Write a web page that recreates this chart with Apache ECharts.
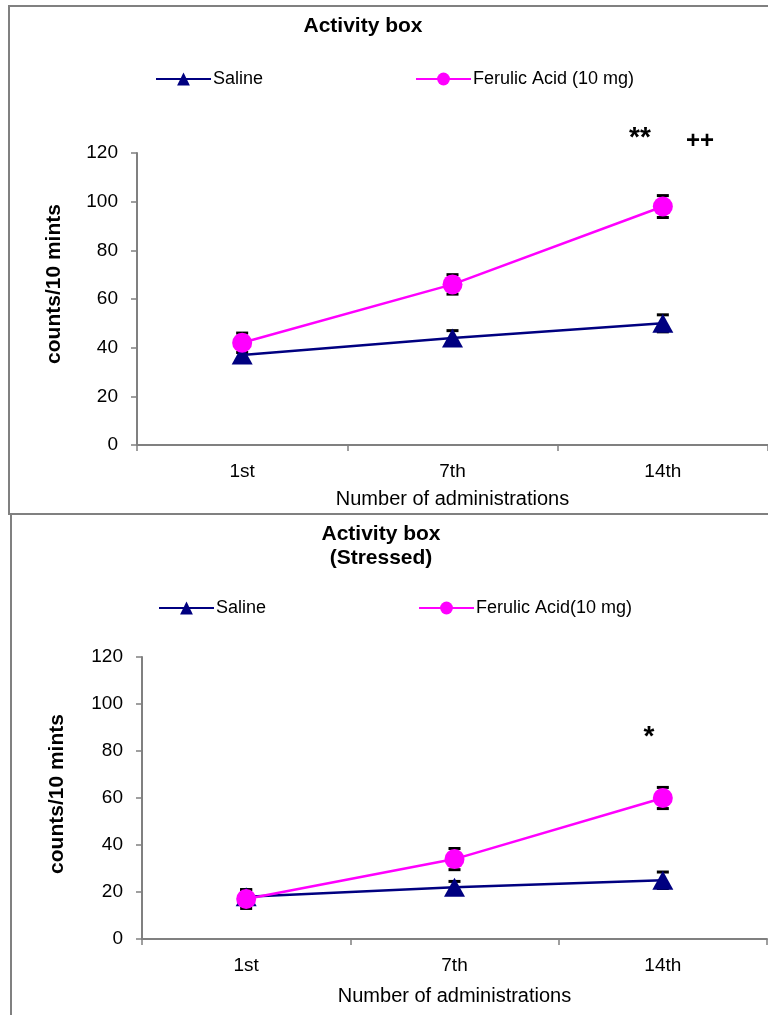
<!DOCTYPE html>
<html>
<head>
<meta charset="utf-8">
<script src="https://cdn.jsdelivr.net/npm/echarts@6/dist/echarts.min.js"></script>
<style>
  html, body { margin: 0; padding: 0; background: #fff; overflow: hidden; }
  .box { position: absolute; border: 2px solid #808080; box-sizing: border-box; }
  #chart { position: absolute; left: 0; top: 0; width: 768px; height: 1015px; }
</style>
</head>
<body>
<!-- panel frames -->
<div class="box" style="left:8px; top:5px; width:800px; height:510px;"></div>
<div class="box" style="left:10px; top:513px; width:800px; height:560px;"></div>
<div id="chart"></div>
<script>
// x categories (same for both panels)
var categories = ['1st', '7th', '14th'];
var yTicks = { min: 0, max: 120, interval: 20 };

// top panel: Activity box
var salineTop = [37, 44, 50];
var salineTopErr = [3, 3, 3.5];
var ferulicTop = [42, 66, 98];
var ferulicTopErr = [4, 4, 4.5];

// bottom panel: Activity box (Stressed)
var salineBot = [18, 22, 25];
var salineBotErr = [3, 2.5, 3.5];
var ferulicBot = [17, 34, 60];
var ferulicBotErr = [4, 4.5, 4.5];

var FONT = 'Liberation Sans, Arial, sans-serif';
var NAVY = '#000080';
var PINK = '#FF00FF';

// build [index, low, high] rows for the error bars
function errRows(vals, errs) {
  return vals.map(function (v, i) { return [i, v - errs[i], v + errs[i]]; });
}

function errRender(params, api) {
  var top = api.coord([api.value(0), api.value(2)]);
  var bot = api.coord([api.value(0), api.value(1)]);
  var w = 6;
  return {
    type: 'group',
    children: [
      { type: 'line', shape: { x1: top[0], y1: top[1], x2: bot[0], y2: bot[1] }, style: { stroke: '#000', lineWidth: 1.5 } },
      { type: 'line', shape: { x1: top[0] - w, y1: top[1], x2: top[0] + w, y2: top[1] }, style: { stroke: '#000', lineWidth: 3 } },
      { type: 'line', shape: { x1: bot[0] - w, y1: bot[1], x2: bot[0] + w, y2: bot[1] }, style: { stroke: '#000', lineWidth: 3 } }
    ]
  };
}

function xAxisFor(idx, gap) {
  return {
    type: 'category',
    gridIndex: idx,
    data: categories,
    name: 'Number of administrations',
    nameLocation: 'middle',
    nameGap: gap,
    nameTextStyle: { color: '#000', fontSize: 20, fontFamily: FONT },
    axisLine: { lineStyle: { color: '#808080', width: 2 } },
    axisTick: { show: true, length: 6, lineStyle: { color: '#808080', width: 1.5 } },
    axisLabel: { color: '#000', fontSize: 19, fontFamily: FONT, margin: 17 },
    splitLine: { show: false }
  };
}

function yAxisFor(idx, gap, pad) {
  return {
    type: 'value',
    gridIndex: idx,
    min: yTicks.min,
    max: yTicks.max,
    interval: yTicks.interval,
    name: 'counts/10 mints',
    nameLocation: 'middle',
    nameGap: gap,
    nameTextStyle: { color: '#000', fontSize: 21, fontWeight: 'bold', fontFamily: FONT, padding: [0, 0, 0, pad] },
    axisLine: { show: true, lineStyle: { color: '#808080', width: 2 } },
    axisTick: { show: true, length: 6, lineStyle: { color: '#808080', width: 1.5 } },
    axisLabel: { color: '#000', fontSize: 19, fontFamily: FONT, margin: 19 },
    splitLine: { show: false }
  };
}

function legendAt(left, top, name) {
  return {
    left: left,
    top: top,
    padding: 0,
    data: [name],
    itemWidth: 55,
    itemHeight: 16,
    itemGap: 0,
    textStyle: { color: '#000', fontSize: 18, fontFamily: FONT, padding: [0, 0, 0, -3] }
  };
}

var chart = echarts.init(document.getElementById('chart'));

var option = {
  animation: false,
  backgroundColor: 'transparent',
  textStyle: { fontFamily: FONT },
  graphic: [
    { type: 'text', x: 363, y: 26, style: { text: 'Activity box', font: 'bold 21px ' + FONT, fill: '#000', align: 'center', verticalAlign: 'middle' } },
    { type: 'text', x: 381, y: 534, style: { text: 'Activity box', font: 'bold 21px ' + FONT, fill: '#000', align: 'center', verticalAlign: 'middle' } },
    { type: 'text', x: 381, y: 558, style: { text: '(Stressed)', font: 'bold 21px ' + FONT, fill: '#000', align: 'center', verticalAlign: 'middle' } },
    { type: 'text', x: 640, y: 138, style: { text: '**', font: 'bold 28px ' + FONT, fill: '#000', align: 'center', verticalAlign: 'middle' } },
    { type: 'text', x: 700, y: 141, style: { text: '++', font: 'bold 24px ' + FONT, fill: '#000', align: 'center', verticalAlign: 'middle' } },
    { type: 'text', x: 649, y: 737, style: { text: '*', font: 'bold 28px ' + FONT, fill: '#000', align: 'center', verticalAlign: 'middle' } }
  ],
  legend: [
    legendAt(155, 70, 'Saline'),
    legendAt(415, 70, 'Ferulic Acid (10 mg)'),
    legendAt(158, 599, 'Saline'),
    legendAt(418, 599, 'Ferulic Acid(10 mg)')
  ],
  grid: [
    { left: 137, top: 153, width: 631, height: 292 },
    { left: 142, top: 657, width: 625, height: 282 }
  ],
  xAxis: [xAxisFor(0, 44), xAxisFor(1, 47)],
  yAxis: [yAxisFor(0, 72, 30), yAxisFor(1, 74, 8)],
  series: [
    { type: 'custom', xAxisIndex: 0, yAxisIndex: 0, renderItem: errRender, data: errRows(salineTop, salineTopErr), z: 1, silent: true },
    { type: 'custom', xAxisIndex: 0, yAxisIndex: 0, renderItem: errRender, data: errRows(ferulicTop, ferulicTopErr), z: 1, silent: true },
    { type: 'custom', xAxisIndex: 1, yAxisIndex: 1, renderItem: errRender, data: errRows(salineBot, salineBotErr), z: 1, silent: true },
    { type: 'custom', xAxisIndex: 1, yAxisIndex: 1, renderItem: errRender, data: errRows(ferulicBot, ferulicBotErr), z: 1, silent: true },
    {
      name: 'Saline', type: 'line', xAxisIndex: 0, yAxisIndex: 0, data: salineTop, z: 3,
      symbol: 'triangle', symbolSize: [21, 19], itemStyle: { color: NAVY }, lineStyle: { color: NAVY, width: 2.5 }
    },
    {
      name: 'Ferulic Acid (10 mg)', type: 'line', xAxisIndex: 0, yAxisIndex: 0, data: ferulicTop, z: 3,
      symbol: 'circle', symbolSize: 20, itemStyle: { color: PINK }, lineStyle: { color: PINK, width: 2.5 }
    },
    {
      name: 'Saline', type: 'line', xAxisIndex: 1, yAxisIndex: 1, data: salineBot, z: 3,
      symbol: 'triangle', symbolSize: [21, 19], itemStyle: { color: NAVY }, lineStyle: { color: NAVY, width: 2.5 }
    },
    {
      name: 'Ferulic Acid(10 mg)', type: 'line', xAxisIndex: 1, yAxisIndex: 1, data: ferulicBot, z: 3,
      symbol: 'circle', symbolSize: 20, itemStyle: { color: PINK }, lineStyle: { color: PINK, width: 2.5 }
    }
  ]
};

chart.setOption(option);
</script>
</body>
</html>
